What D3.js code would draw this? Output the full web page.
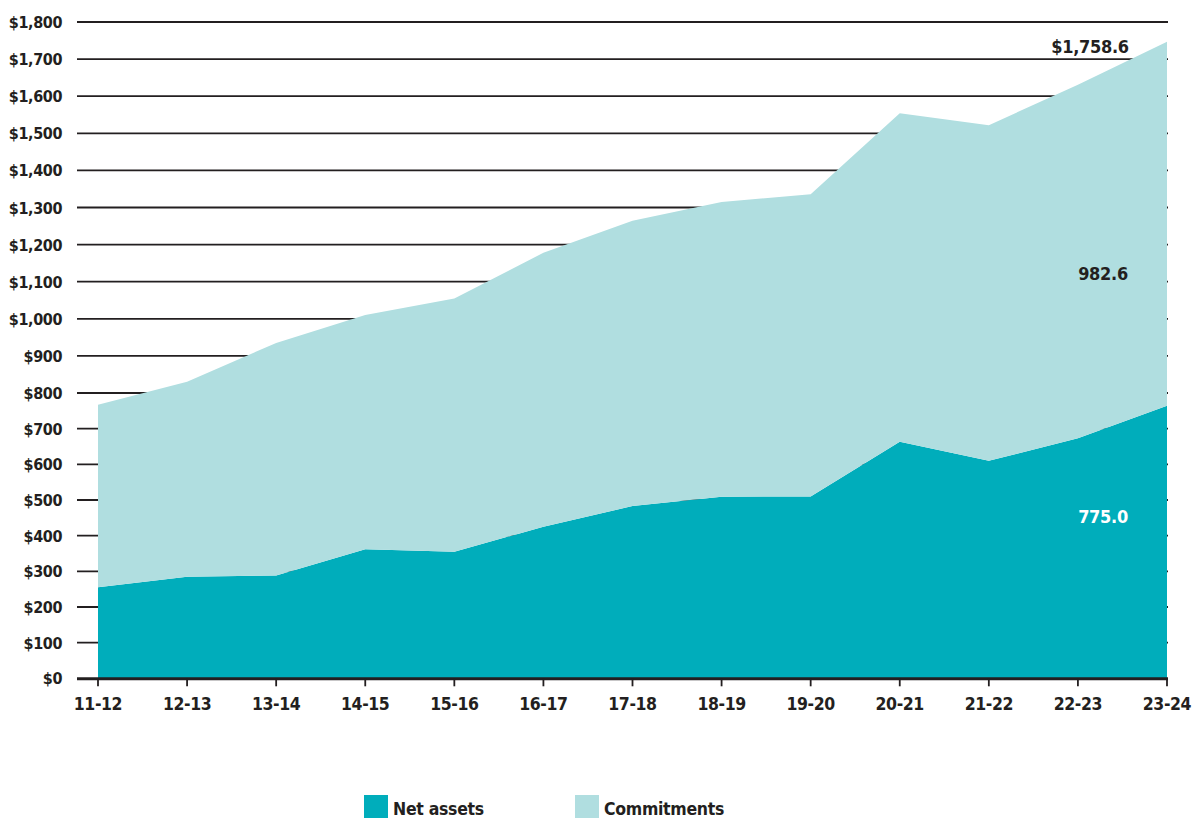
<!DOCTYPE html>
<html>
<head>
<meta charset="utf-8">
<script src="https://cdn.jsdelivr.net/npm/d3@7/dist/d3.min.js"></script>
<style>
  html, body { margin: 0; padding: 0; background: #ffffff; }
  svg { display: block; }
  text { font-family: "Liberation Sans Narrow", "DejaVu Sans Condensed", "Open Sans", sans-serif; font-weight: bold; fill: #231f20; }
</style>
</head>
<body>
<svg id="chart" width="1195" height="821"></svg>
<script>
const categories = ["11-12","12-13","13-14","14-15","15-16","16-17","17-18","18-19","19-20","20-21","21-22","22-23","23-24"];
const netAssets   = [255, 285, 288, 362, 355, 425, 483, 509, 510, 663, 610, 673, 764];
const commitments = [512, 545, 647, 648, 700, 753, 781, 806, 826, 891, 912, 958, 983];
const yTicks = [0,100,200,300,400,500,600,700,800,900,1000,1100,1200,1300,1400,1500,1600,1700,1800];
const seriesNames = ["Net assets", "Commitments"];
const seriesColors = ["#00adbb", "#b0dee0"];
const valueLabels = [
  { text: "$1,758.6", cat: "23-24", value: 1716, color: "#231f20", dx: -77 },
  { text: "982.6",    cat: "23-24", value: 1104, color: "#231f20", dx: -64 },
  { text: "775.0",    cat: "23-24", value: 435,  color: "#ffffff", dx: -64 }
];

const svg = d3.select("#chart");

const x = d3.scalePoint().domain(categories).range([98, 1167]);
const y = d3.scaleLinear().domain([0, 800, 1800]).range([678.3, 393, 22]);

const rows = categories.map((c, i) => ({ cat: c, net: netAssets[i], com: commitments[i] }));
const stacked = d3.stack().keys(["net", "com"])(rows);

// gridlines
svg.append("g").selectAll("line").data(yTicks.filter(d => d > 0)).join("line")
  .attr("x1", 77).attr("x2", 1168)
  .attr("y1", d => y(d)).attr("y2", d => y(d))
  .attr("stroke", "#231f20").attr("stroke-width", 1.8);

// areas
const area = d3.area()
  .x(d => x(d.data.cat))
  .y0(d => y(d[0]))
  .y1(d => y(d[1]));

svg.append("g").selectAll("path").data(stacked).join("path")
  .attr("d", area)
  .attr("fill", (d, i) => seriesColors[i]);

// y axis labels
svg.append("g").selectAll("text").data(yTicks).join("text")
  .attr("x", 62).attr("y", d => y(d) + 6)
  .attr("text-anchor", "end")
  .attr("font-size", 16)
  .attr("letter-spacing", -0.4)
  .text(d => "$" + d3.format(",")(d));

// baseline + ticks
svg.append("line")
  .attr("x1", 77).attr("x2", 1168)
  .attr("y1", y(0) + 0.5).attr("y2", y(0) + 0.5)
  .attr("stroke", "#231f20").attr("stroke-width", 3);

svg.append("g").selectAll("line").data(categories).join("line")
  .attr("x1", d => x(d)).attr("x2", d => x(d))
  .attr("y1", y(0)).attr("y2", y(0) + 8)
  .attr("stroke", "#231f20").attr("stroke-width", 1.8);

svg.append("g").selectAll("text").data(categories).join("text")
  .attr("x", d => x(d)).attr("y", 710)
  .attr("text-anchor", "middle")
  .attr("font-size", 17.5)
  .attr("letter-spacing", -0.4)
  .text(d => d);

// value labels
svg.append("g").selectAll("text").data(valueLabels).join("text")
  .attr("x", d => x(d.cat) + d.dx).attr("y", d => y(d.value))
  .attr("text-anchor", "middle")
  .attr("font-size", 18)
  .attr("letter-spacing", -0.3)
  .style("fill", d => d.color)
  .text(d => d.text);

// legend
const legendPos = [364, 575];
const lg = svg.append("g").selectAll("g").data(seriesNames).join("g")
  .attr("transform", (d, i) => `translate(${legendPos[i]},795)`);
lg.append("rect").attr("width", 24).attr("height", 23).attr("fill", (d, i) => seriesColors[i]);
lg.append("text").attr("x", 29).attr("y", 20).attr("font-size", 17.5)
  .attr("letter-spacing", -0.3).text(d => d);
</script>
</body>
</html>
